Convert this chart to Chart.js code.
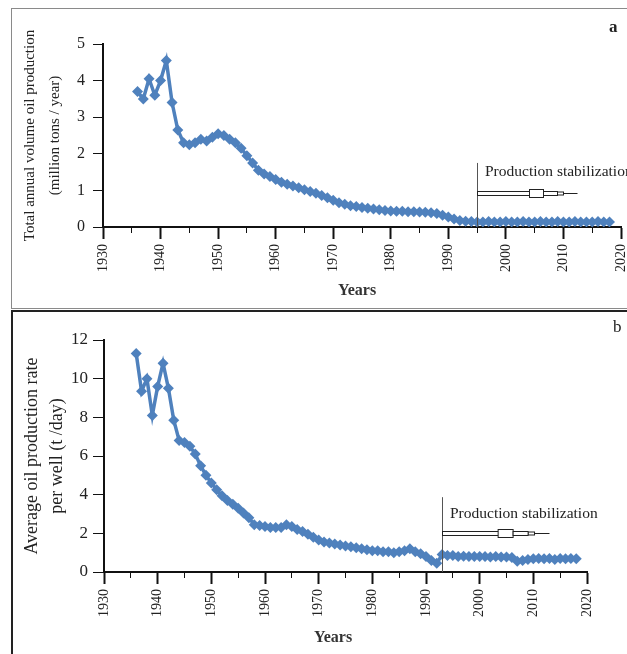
<!DOCTYPE html>
<html>
<head>
<meta charset="utf-8">
<script src="https://cdn.jsdelivr.net/npm/chart.js@4"></script>
<style>
  body { margin: 0; background: #fff; width: 627px; height: 654px; position: relative; overflow: hidden; font-family: "Liberation Serif", serif; }
  .frame { position: absolute; box-sizing: border-box; }
  #frameA { left: 11px; top: 8px; width: 640px; height: 301px; border: 1px solid #8a8a8a; }
  #frameB { left: 11px; top: 310px; width: 640px; height: 360px; border: 2px solid #222; }
  .wrap { position: absolute; left: 0; width: 627px; }
  #wrapA { top: 0; height: 310px; }
  #wrapB { top: 310px; height: 344px; }
  .tag { position: absolute; font-size: 17px; color: #222; }
  .xtitle { position: absolute; font-size: 16px; font-weight: bold; color: #333; transform: translate(-50%, -50%); }
</style>
</head>
<body>
<div class="frame" id="frameA"></div>
<div class="frame" id="frameB"></div>
<div class="wrap" id="wrapA"><canvas id="chartA" width="627" height="310"></canvas></div>
<div class="wrap" id="wrapB"><canvas id="chartB" width="627" height="344"></canvas></div>
<div class="tag" style="left:609px; top:17px; font-weight:bold;">a</div>
<div class="tag" style="left:613px; top:317px;">b</div>
<div class="xtitle" style="left:357px; top:290px;">Years</div>
<div class="xtitle" style="left:333px; top:637px;">Years</div>
<script>
// years of record (same for both panels)
const years = [
    1936, 1937, 1938, 1939,
    1940, 1941, 1942, 1943, 1944, 1945, 1946, 1947, 1948, 1949,
    1950, 1951, 1952, 1953, 1954, 1955, 1956, 1957, 1958, 1959,
    1960, 1961, 1962, 1963, 1964, 1965, 1966, 1967, 1968, 1969,
    1970, 1971, 1972, 1973, 1974, 1975, 1976, 1977, 1978, 1979,
    1980, 1981, 1982, 1983, 1984, 1985, 1986, 1987, 1988, 1989,
    1990, 1991, 1992, 1993, 1994, 1995, 1996, 1997, 1998, 1999,
    2000, 2001, 2002, 2003, 2004, 2005, 2006, 2007, 2008, 2009,
    2010, 2011, 2012, 2013, 2014, 2015, 2016, 2017, 2018
];

// (a) total annual volume, million tons / year
const totalProduction = [
    3.70, 3.50, 4.05, 3.60,
    4.00, 4.55, 3.40, 2.65, 2.30, 2.25, 2.30, 2.40, 2.35, 2.45,
    2.55, 2.50, 2.40, 2.30, 2.15, 1.95, 1.75, 1.55, 1.45, 1.38,
    1.30, 1.22, 1.17, 1.12, 1.07, 1.02, 0.97, 0.92, 0.86, 0.80,
    0.73, 0.66, 0.62, 0.58, 0.56, 0.53, 0.51, 0.49, 0.47, 0.45,
    0.44, 0.43, 0.43, 0.42, 0.42, 0.41, 0.40, 0.39, 0.37, 0.32,
    0.27, 0.22, 0.18, 0.16, 0.15, 0.14, 0.14, 0.15, 0.14, 0.14,
    0.15, 0.14, 0.14, 0.15, 0.14, 0.14, 0.15, 0.14, 0.14, 0.15,
    0.14, 0.14, 0.15, 0.14, 0.14, 0.14, 0.15, 0.14, 0.14
];

// (b) average rate per well, t/day
const wellRate = [
    11.3, 9.35, 10.0, 8.1,
    9.6, 10.8, 9.5, 7.85, 6.8, 6.7, 6.5, 6.1, 5.5, 5.0,
    4.6, 4.25, 3.95, 3.7, 3.5, 3.3, 3.05, 2.8, 2.45, 2.4,
    2.35, 2.3, 2.3, 2.3, 2.45, 2.35, 2.2, 2.1, 1.95, 1.8,
    1.65, 1.55, 1.5, 1.45, 1.4, 1.35, 1.3, 1.25, 1.2, 1.15,
    1.1, 1.1, 1.05, 1.05, 1.0, 1.05, 1.1, 1.2, 1.05, 0.95,
    0.8, 0.6, 0.45, 0.9, 0.85, 0.85, 0.8, 0.82, 0.8, 0.8,
    0.8, 0.8, 0.78, 0.8, 0.78, 0.78, 0.75, 0.55, 0.6, 0.65,
    0.68, 0.7, 0.68, 0.7, 0.65, 0.7, 0.68, 0.7, 0.68
];

const yTicksA = [0, 1, 2, 3, 4, 5];
const yTicksB = [0, 2, 4, 6, 8, 10, 12];

const BLUE = '#4F81BD';
const SERIF = '"Liberation Serif", "Times New Roman", serif';

// vertical line + label + arrow marking the start of stabilization
const stabilizationPlugin = {
    id: 'stabilization',
    afterDatasetsDraw(chart, args, opts) {
        const xs = chart.scales.x, ys = chart.scales.y;
        const ctx = chart.ctx;
        const px = Math.round(xs.getPixelForValue(opts.year)) + 0.5;
        ctx.save();
        ctx.strokeStyle = '#555';
        ctx.lineWidth = 1;
        ctx.beginPath();
        ctx.moveTo(px, ys.getPixelForValue(opts.lineTop));
        ctx.lineTo(px, ys.bottom);
        ctx.stroke();

        ctx.font = '15.5px ' + SERIF;
        ctx.fillStyle = '#222';
        ctx.textBaseline = 'middle';
        ctx.fillText(opts.text, px + 7.5, ys.getPixelForValue(opts.textAt));

        // rough block arrow pointing right
        const ay = Math.round(ys.getPixelForValue(opts.arrowAt)) + 0.5;
        const L = opts.arrowLength;
        ctx.fillStyle = '#fff';
        ctx.strokeStyle = '#222';
        const box = (x0, x1, h) => {
            ctx.fillRect(x0, ay - h / 2, x1 - x0, h);
            ctx.strokeRect(x0, ay - h / 2, x1 - x0, h);
        };
        box(px, px + 0.55 * L, 4);
        box(px + 0.8 * L, px + 0.86 * L, 3);
        box(px + 0.52 * L, px + 0.66 * L, 8);
        box(px + 0.66 * L, px + 0.8 * L, 4);
        ctx.beginPath();
        ctx.moveTo(px + 0.86 * L, ay);
        ctx.lineTo(px + L, ay);
        ctx.stroke();
        ctx.restore();
    }
};

function makeChart(id, values, cfg) {
    const ctx = document.getElementById(id).getContext('2d');
    return new Chart(ctx, {
        type: 'line',
        data: {
            datasets: [{
                data: years.map((yr, i) => ({ x: yr, y: values[i] })),
                borderColor: BLUE,
                backgroundColor: BLUE,
                borderWidth: 3.5,
                pointStyle: 'rectRot',
                pointRadius: 5.5,
                pointBorderWidth: 0,
                tension: 0
            }]
        },
        plugins: [stabilizationPlugin],
        options: {
            responsive: false,
            animation: false,
            layout: { padding: cfg.padding },
            plugins: {
                legend: { display: false },
                tooltip: { enabled: false },
                stabilization: cfg.stab
            },
            scales: {
                x: {
                    type: 'linear',
                    min: 1930,
                    max: 2020,
                    afterFit: s => {
                        s.height = cfg.xHeight;
                        s.paddingLeft = 0;
                        s.paddingRight = 0;
                    },
                    border: { color: '#111', width: 2 },
                    grid: {
                        drawOnChartArea: false,
                        drawTicks: true,
                        tickLength: 12,
                        color: '#111',
                        tickWidth: c => (c.tick && c.tick.value % 10 === 0 ? 2 : 1),
                        // decade ticks are long, the 5-year ones short
                        tickBorderDash: c => (c.tick && c.tick.value % 10 === 0 ? [] : [5, 40])
                    },
                    ticks: {
                        stepSize: 5,
                        autoSkip: false,
                        minRotation: 90,
                        maxRotation: 90,
                        padding: 5,
                        color: '#222',
                        font: { family: SERIF, size: 14 },
                        callback: v => (v % 10 === 0 ? String(v) : '')
                    }
                },
                y: {
                    min: 0,
                    max: cfg.yTicks[cfg.yTicks.length - 1],
                    afterFit: s => { s.width = cfg.yWidth; },
                    afterBuildTicks: s => { s.ticks = cfg.yTicks.map(v => ({ value: v })); },
                    border: { color: '#111', width: 2 },
                    grid: {
                        drawOnChartArea: false,
                        drawTicks: true,
                        tickLength: cfg.yTickLen,
                        color: '#111'
                    },
                    ticks: {
                        padding: cfg.yTickPad,
                        color: '#222',
                        font: { family: SERIF, size: cfg.yTickSize }
                    },
                    title: {
                        display: true,
                        text: cfg.yTitle,
                        color: '#222',
                        font: { family: SERIF, size: cfg.yTitleSize, lineHeight: cfg.yTitleLH },
                        padding: { top: cfg.yTitlePad, bottom: 0 }
                    }
                }
            }
        }
    });
}

makeChart('chartA', totalProduction, {
    padding: { left: 0, top: 44, right: 6, bottom: 0 },
    xHeight: 83,
    yWidth: 103,
    yTicks: yTicksA,
    yTickLen: 10,
    yTickPad: 8,
    yTickSize: 16,
    yTitle: ['Total annual volume oil production', '(million tons / year)'],
    yTitleSize: 15,
    yTitleLH: 1.667,
    yTitlePad: 17.5,
    stab: { year: 1995, lineTop: 1.75, text: 'Production stabilization', textAt: 1.5, arrowAt: 0.93, arrowLength: 100 }
});

makeChart('chartB', wellRate, {
    padding: { left: 0, top: 30, right: 40, bottom: 0 },
    xHeight: 82,
    yWidth: 104,
    yTicks: yTicksB,
    yTickLen: 11,
    yTickPad: 5,
    yTickSize: 17,
    yTitle: ['Average oil production rate', 'per well (t /day)'],
    yTitleSize: 18,
    yTitleLH: 1.39,
    yTitlePad: 19.5,
    stab: { year: 1993, lineTop: 3.87, text: 'Production stabilization', textAt: 3.0, arrowAt: 2.0, arrowLength: 107 }
});
</script>
</body>
</html>
